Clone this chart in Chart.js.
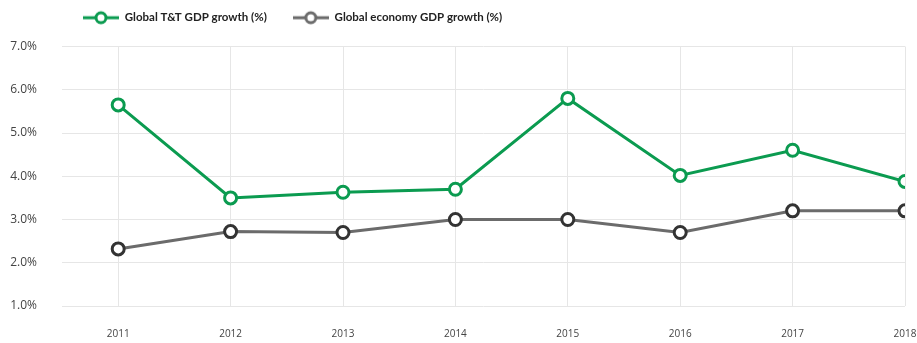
<!DOCTYPE html>
<html>
<head>
<meta charset="utf-8">
<script src="https://cdn.jsdelivr.net/npm/chart.js@4.4.0/dist/chart.umd.min.js"></script>
<style>
  html, body { margin: 0; padding: 0; background: #fff; }
  #wrap { width: 917px; height: 343px; }
</style>
</head>
<body>
<div id="wrap"><canvas id="gdpChart"></canvas></div>
<script>
// data
const years = [2011, 2012, 2013, 2014, 2015, 2016, 2017, 2018];
const ttGrowth = [5.65, 3.5, 3.63, 3.7, 5.8, 4.02, 4.6, 3.88];
const economyGrowth = [2.32, 2.72, 2.7, 3.0, 3.0, 2.7, 3.2, 3.2];
const yTicks = [1, 2, 3, 4, 5, 6, 7];

const green = '#0b9b50';
const grey = '#6b6b6b';
const darkGrey = '#333333';

// small legend marker: line with a hollow circle in the middle
function makeMarker(lineColor, ringColor) {
  const c = document.createElement('canvas');
  c.width = 36;
  c.height = 16;
  const ctx = c.getContext('2d');
  ctx.strokeStyle = lineColor;
  ctx.lineWidth = 3;
  ctx.beginPath();
  ctx.moveTo(0, 8);
  ctx.lineTo(36, 8);
  ctx.stroke();
  ctx.beginPath();
  ctx.arc(18, 8, 5, 0, Math.PI * 2);
  ctx.fillStyle = '#fff';
  ctx.fill();
  ctx.strokeStyle = ringColor;
  ctx.stroke();
  return c;
}
const markers = [makeMarker(green, green), makeMarker(grey, grey)];

// move the legend (right and up) and leave room below it
const legendTweak = {
  id: 'legendTweak',
  beforeInit(chart) {
    const legend = chart.legend;
    const fit = legend.fit;
    legend.fit = function () {
      fit.call(this);
      this.height -= 1;
    };
  },
  afterLayout(chart) {
    chart.legend.left += 57;
    chart.legend.top -= 14;
  }
};

const ctx = document.getElementById('gdpChart').getContext('2d');
new Chart(ctx, {
  type: 'line',
  data: {
    datasets: [{
      label: 'Global T&T GDP growth (%)',
      data: years.map((y, i) => ({ x: y, y: ttGrowth[i] })),
      borderColor: green,
      backgroundColor: '#fff',
      pointBorderColor: green,
      borderWidth: 3,
      pointRadius: 6,
      pointBorderWidth: 3,
      pointBackgroundColor: '#fff',
      tension: 0
    }, {
      label: 'Global economy GDP growth (%)',
      data: years.map((y, i) => ({ x: y, y: economyGrowth[i] })),
      borderColor: grey,
      backgroundColor: '#fff',
      pointBorderColor: darkGrey,
      borderWidth: 3,
      pointRadius: 6,
      pointBorderWidth: 3,
      pointBackgroundColor: '#fff',
      tension: 0
    }]
  },
  plugins: [legendTweak],
  options: {
    responsive: true,
    maintainAspectRatio: false,
    animation: false,
    layout: { padding: { top: 0, right: 12, left: 0, bottom: 0 } },
    plugins: {
      tooltip: { enabled: false },
      legend: {
        position: 'top',
        align: 'start',
        labels: {
          usePointStyle: true,
          pointStyleWidth: 36,
          padding: 26,
          color: '#222',
          font: { family: 'Lato', size: 11.5, weight: 'bold' },
          generateLabels: function (chart) {
            return chart.data.datasets.map((ds, i) => ({
              text: ds.label,
              pointStyle: markers[i],
              fillStyle: '#fff',
              strokeStyle: ds.borderColor,
              lineWidth: 0,
              fontColor: '#222',
              datasetIndex: i
            }));
          }
        }
      }
    },
    scales: {
      x: {
        type: 'linear',
        min: 2010.5,
        max: 2018,
        afterBuildTicks: function (scale) {
          scale.ticks = years.map(v => ({ value: v }));
        },
        afterFit: function (scale) {
          scale.height = 37;
          scale.paddingLeft = 0;
          scale.paddingRight = 0;
        },
        border: { display: false },
        grid: { color: '#e6e6e6', drawTicks: false },
        ticks: {
          padding: 22,
          color: '#444',
          font: { family: 'Open Sans', size: 10 },
          callback: v => String(v),
          maxRotation: 0
        }
      },
      y: {
        min: 1,
        max: 7,
        afterBuildTicks: function (scale) {
          scale.ticks = yTicks.map(v => ({ value: v }));
        },
        afterFit: function (scale) { scale.width = 62; },
        border: { display: false },
        grid: { color: '#e6e6e6', drawTicks: false },
        ticks: {
          padding: 25,
          color: '#444',
          font: { family: 'Open Sans', size: 12 },
          callback: v => v.toFixed(1) + '%'
        }
      }
    }
  }
});
</script>
</body>
</html>
